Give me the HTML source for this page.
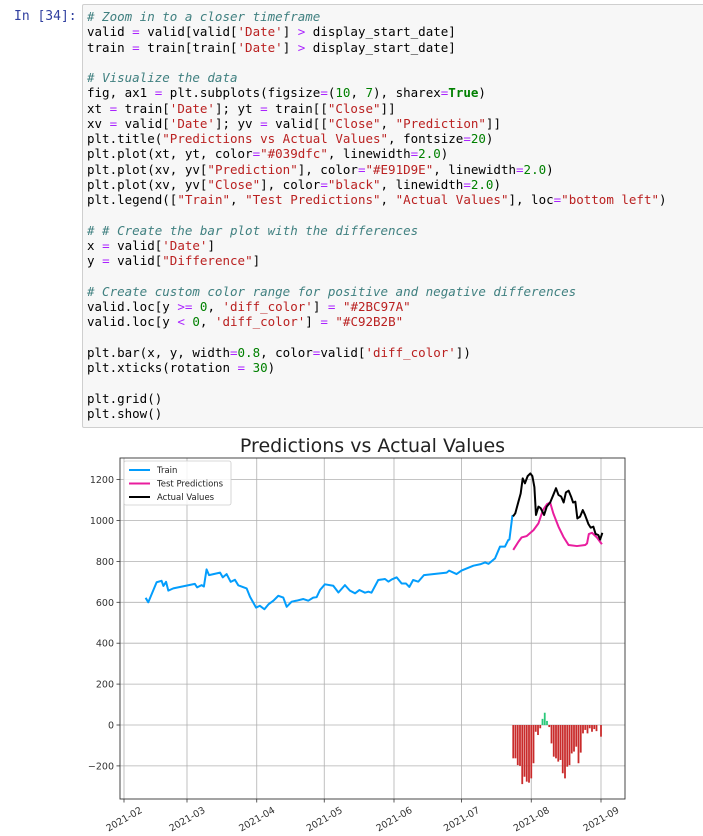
<!DOCTYPE html>
<html><head><meta charset="utf-8">
<style>
body{margin:0;width:703px;height:836px;background:#fff;position:relative;overflow:hidden;font-family:"DejaVu Sans","Liberation Sans",sans-serif}
.prompt{position:absolute;left:14px;top:9px;font:13px "DejaVu Sans Mono","Liberation Mono",monospace;color:#303F9F}
.cell{position:absolute;left:82px;top:4px;width:630px;height:422px;background:#f7f7f7;border:1px solid #cfcfcf;border-radius:2px}
pre{margin:0;position:absolute;left:4px;top:4px;font:12.5px/15.27px "DejaVu Sans Mono","Liberation Mono",monospace;color:#000}
.c{color:#408080;font-style:italic}.s{color:#BA2121}.n{color:#008000}.o{color:#AA22FF}.k{color:#008000;font-weight:bold}
svg{position:absolute;left:0;top:0}
</style></head><body>
<div class="prompt">In [34]:</div>
<div class="cell"><pre><span class="c"># Zoom in to a closer timeframe</span>
valid <span class="o">=</span> valid[valid[<span class="s">'Date'</span>] <span class="o">&gt;</span> display_start_date]
train <span class="o">=</span> train[train[<span class="s">'Date'</span>] <span class="o">&gt;</span> display_start_date]

<span class="c"># Visualize the data</span>
fig, ax1 <span class="o">=</span> plt.subplots(figsize<span class="o">=</span>(<span class="n">10</span>, <span class="n">7</span>), sharex<span class="o">=</span><span class="k">True</span>)
xt <span class="o">=</span> train[<span class="s">'Date'</span>]; yt <span class="o">=</span> train[[<span class="s">"Close"</span>]]
xv <span class="o">=</span> valid[<span class="s">'Date'</span>]; yv <span class="o">=</span> valid[[<span class="s">"Close"</span>, <span class="s">"Prediction"</span>]]
plt.title(<span class="s">"Predictions vs Actual Values"</span>, fontsize<span class="o">=</span><span class="n">20</span>)
plt.plot(xt, yt, color<span class="o">=</span><span class="s">"#039dfc"</span>, linewidth<span class="o">=</span><span class="n">2.0</span>)
plt.plot(xv, yv[<span class="s">"Prediction"</span>], color<span class="o">=</span><span class="s">"#E91D9E"</span>, linewidth<span class="o">=</span><span class="n">2.0</span>)
plt.plot(xv, yv[<span class="s">"Close"</span>], color<span class="o">=</span><span class="s">"black"</span>, linewidth<span class="o">=</span><span class="n">2.0</span>)
plt.legend([<span class="s">"Train"</span>, <span class="s">"Test Predictions"</span>, <span class="s">"Actual Values"</span>], loc<span class="o">=</span><span class="s">"bottom left"</span>)

<span class="c"># # Create the bar plot with the differences</span>
x <span class="o">=</span> valid[<span class="s">'Date'</span>]
y <span class="o">=</span> valid[<span class="s">"Difference"</span>]

<span class="c"># Create custom color range for positive and negative differences</span>
valid.loc[y <span class="o">&gt;=</span> <span class="n">0</span>, <span class="s">'diff_color'</span>] <span class="o">=</span> <span class="s">"#2BC97A"</span>
valid.loc[y <span class="o">&lt;</span> <span class="n">0</span>, <span class="s">'diff_color'</span>] <span class="o">=</span> <span class="s">"#C92B2B"</span>

plt.bar(x, y, width<span class="o">=</span><span class="n">0.8</span>, color<span class="o">=</span>valid[<span class="s">'diff_color'</span>])
plt.xticks(rotation <span class="o">=</span> <span class="n">30</span>)

plt.grid()
plt.show()</pre></div>
<svg id="chart" width="703" height="836"></svg>
<script>
// days since 2021-02-01
const trainDays=[9.6,10.8,14.5,16.7,17.5,18.7,19.7,21.9,31.5,32.5,34.5,35.5,36.7,37.8,42.7,43.9,45.6,47.4,49.3,50.8,54.5,56,58.7,60.4,62.4,64.2,66.4,68.6,70.8,72.3,74.5,76.7,79.7,81.9,84.1,85.6,87.1,89.3,93,95.3,98.2,100.4,102.7,104.6,107.1,108.6,110,113,116,117.5,119,121.2,123.4,125.3,126.8,128.5,130.8,133.3,143.4,144.5,147.8,150,155.3,158.3,160.5,162,164.9,167.1,169.3,170.8,171.3,172.6,172.9];
const trainVals=[622,600,698,705,680,700,657,668,690,673,684,677,761,733,745,722,738,700,710,683,668,627,574,583,566,590,608,632,623,578,603,608,616,608,623,625,660,688,681,648,684,657,644,660,647,652,647,709,714,701,712,722,692,692,675,709,701,733,745,755,738,755,779,786,795,788,815,872,872,905,907,1022,1025];
const actDays=[172.9,173.9,175.3,176.3,177.2,178.2,179.4,180.6,181.5,182.4,183.1,184.2,185.2,186.7,187.9,189.4,190.8,192,193.1,194.3,195.4,196.4,197.6,198.7,199.6,200.6,201.5,202.7,203.9,204.9,206.4,207.4,208.6,209.6,210.8,211.6,212.6];
const actVals=[1020,1035,1092,1132,1206,1182,1217,1230,1217,1163,1027,1068,1060,1027,1068,1088,1125,1158,1125,1117,1088,1137,1146,1117,1088,1092,1010,1019,1051,1027,983,965,970,934,929,907,940];
const predDays=[173,175.3,176.7,179,182,184.2,186.2,188,189.4,190.8,193.1,195.3,197.6,201.3,205,205.8,206.6,208,210.2,212.4];
const predVals=[856,896,917,924,953,986,1051,1080,1088,1035,970,920,880,875,880,888,934,940,917,884];
const barDays=[173,174,175,176,177,178,179,180,181,182,183,184,185,186,187,188,189,190,191,192,193,194,195,196,197,198,199,200,201,202,203,204,205,206,207,208,209,210,212];
const barVals=[-163,-163,-196,-200,-289,-253,-277,-282,-261,-187,-33,-49,-16,30,60,20,-10,-90,-155,-163,-179,-171,-236,-261,-204,-196,-139,-130,-106,-187,-135,-41,-24,-41,-16,-33,-20,-30,-57];
const yTicks=[-200,0,200,400,600,800,1000,1200];
const xTickDays=[0,28,59,89,120,150,181,212];
const xTickLabels=["2021-02","2021-03","2021-04","2021-05","2021-06","2021-07","2021-08","2021-09"];

const L=120,R=625,T=458,B=799;
const X=d=>124+d*2.25;
const Y=v=>725-v*0.2045;
const svg=document.getElementById('chart');
const NS='http://www.w3.org/2000/svg';
function mk(tag,attrs,parent){const e=document.createElementNS(NS,tag);for(const k in attrs)e.setAttribute(k,attrs[k]);(parent||svg).appendChild(e);return e;}

const title=mk('text',{x:(L+R)/2,y:452,'text-anchor':'middle','font-size':'19','fill':'#222','font-family':'DejaVu Sans, Liberation Sans, sans-serif'});
title.textContent='Predictions vs Actual Values';



yTicks.forEach(v=>{
  const g=mk('line',{x1:L,x2:R,y1:Y(v),y2:Y(v),stroke:'#b0b0b0','stroke-width':0.8});
  
  
  mk('line',{x1:L-3.5,x2:L,y1:Y(v),y2:Y(v),stroke:'#333','stroke-width':0.8});
  const t=mk('text',{x:L-6,y:Y(v)+3.5,'text-anchor':'end','font-size':'9.5',fill:'#333','font-family':'DejaVu Sans, Liberation Sans, sans-serif'});
  t.textContent=v<0?'\u2212'+(-v):String(v);
  
  
});
xTickDays.forEach((d,i)=>{
  const g=mk('line',{x1:X(d),x2:X(d),y1:T,y2:B,stroke:'#b0b0b0','stroke-width':0.8});
  
  
  mk('line',{x1:X(d),x2:X(d),y1:B,y2:B+3.5,stroke:'#333','stroke-width':0.8});
  const cx=X(d), cy=B+20;
  const t=mk('text',{x:cx,y:cy+3.3,'text-anchor':'middle','font-size':'9.5',fill:'#333','font-family':'DejaVu Sans, Liberation Sans, sans-serif',transform:`rotate(-30 ${cx} ${cy})`});
  t.textContent=xTickLabels[i];
  
  
});

barDays.forEach((d,i)=>{
  const v=barVals[i];
  const r=mk('rect',{x:X(d-0.4),width:2.25*0.8,y:Math.min(Y(v),Y(0)),height:Math.abs(Y(v)-Y(0)),fill:v>=0?'#2BC97A':'#C92B2B'});
  
  
});

function line(days,vals,color,name){
  const p=mk('polyline',{points:days.map((d,i)=>X(d)+','+Y(vals[i])).join(' '),fill:'none',stroke:color,'stroke-width':2,'stroke-linejoin':'round'});
  
  
}
line(trainDays,trainVals,'#039dfc','train-line');
line(predDays,predVals,'#E91D9E','prediction-line');
line(actDays,actVals,'#000','actual-line');

const frame=mk('rect',{x:L,y:T,width:R-L,height:B-T,fill:'none',stroke:'#333','stroke-width':0.9});



const lg=mk('g',{});


mk('rect',{x:124,y:461,width:107,height:44,rx:2,fill:'#fff','fill-opacity':0.85,stroke:'#ccc','stroke-width':0.8},lg);
[['Train','#039dfc'],['Test Predictions','#E91D9E'],['Actual Values','#000']].forEach((e,i)=>{
  const yy=470+i*13.5;
  const ent=mk('g',{},lg);
  
  
  mk('line',{x1:129,x2:150,y1:yy,y2:yy,stroke:e[1],'stroke-width':2},ent);
  const t=mk('text',{x:157,y:yy+3.2,'font-size':'8.5',fill:'#222','font-family':'DejaVu Sans, Liberation Sans, sans-serif'},ent);
  t.textContent=e[0];
});
</script>
</body></html>
